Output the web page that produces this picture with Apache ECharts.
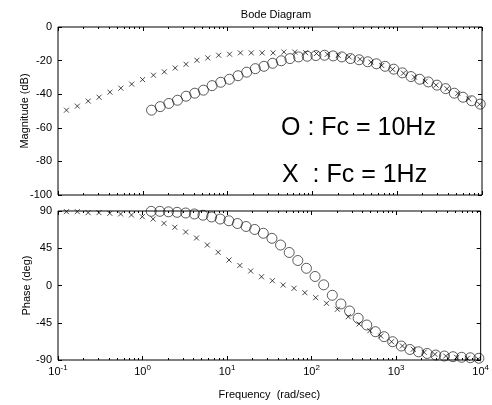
<!DOCTYPE html>
<html>
<head>
<meta charset="utf-8">
<script src="https://cdn.jsdelivr.net/npm/echarts@6/dist/echarts.min.js"></script>
<style>
  html, body { margin: 0; padding: 0; background: #fff; }
  #chart { width: 492px; height: 405px; }
</style>
</head>
<body>
<div id="chart"></div>
<script>
// X : Fc = 1Hz  (frequencies in rad/sec)
const xFreq = [0.1259, 0.1691, 0.2272, 0.3052, 0.4101, 0.5508, 0.7398, 0.994, 1.335, 1.794,
  2.410, 3.237, 4.349, 5.842, 7.849, 10.54, 14.17, 19.03, 25.56, 34.35,
  46.13, 61.98, 83.25, 111.8, 150.2, 201.8, 271.1, 364.2, 489.3, 657.3,
  883.1, 1186, 1594, 2141, 2876, 3864, 5191, 6973, 9368]
const xMag = [-49.5, -47.1, -44.1, -41.8, -38.8, -36.4, -34, -31.3, -28.7, -26.7,
  -24.4, -22.2, -19.8, -18.4, -16.8, -16.2, -15.4, -15.4, -15.4, -15.4,
  -14.9, -14.9, -15.3, -15.8, -16.2, -16.9, -17.8, -19.2, -20.9, -22.9,
  -25.2, -27.5, -29.8, -32.3, -34.6, -36.8, -39.5, -42.8, -46]
const xPhase = [89.2, 89.2, 88, 88, 87.2, 86.4, 85.2, 83.1, 80.3, 75.1,
  70.3, 64.6, 57.4, 48.9, 40.1, 30.8, 24.2, 17.5, 10.6, 5.8,
  0.6, -3.4, -8.7, -14.7, -21.5, -28.7, -37.7, -46.5, -54.6, -61,
  -67.9, -73, -77, -80.7, -83.1, -85.2, -86.7, -87.9, -88.8]

// O : Fc = 10Hz
const oFreq = [1.268, 1.603, 2.028, 2.564, 3.243, 4.102, 5.188, 6.561, 8.299, 10.50,
  13.27, 16.79, 21.23, 26.85, 33.96, 42.95, 54.33, 68.71, 86.90, 109.9,
  139.0, 175.8, 222.3, 281.2, 355.6, 449.8, 568.9, 719.5, 910.0, 1151,
  1455, 1841, 2328, 2944, 3724, 4710, 5957, 7534, 9528]
const oMag = [-49.5, -47.4, -45.5, -43.6, -41.2, -39.4, -37.6, -34.9, -32.9, -31.1,
  -29, -26.9, -24.8, -23.4, -21.6, -20.1, -18.8, -17.8, -17.4, -17,
  -16.8, -17.2, -17.8, -18.8, -19.5, -20.7, -21.9, -23.4, -25.1, -27.3,
  -29.5, -31.1, -32.7, -34.6, -36.7, -39.4, -41.8, -43.9, -45.9]
const oPhase = [89.6, 89.6, 89, 88.4, 87.6, 86.4, 84.9, 82.8, 80.3, 78.2,
  74.9, 71.3, 67.7, 63.1, 57, 48.9, 39.9, 30.2, 20.8, 10.9,
  0.8, -11.8, -22.3, -30.8, -39.6, -47.7, -55.8, -61.8, -67.9, -73.1,
  -77.3, -80.1, -82.1, -84, -85.2, -86, -86.7, -87.3, -87.9]

const font = 'Liberation Sans, Arial, sans-serif'
const chart = echarts.init(document.getElementById('chart'))

function pairs(xs, ys) {
  return xs.map((f, i) => [f, ys[i]])
}

function logAxis(grid, pos, labels) {
  return {
    type: 'log', logBase: 10, gridIndex: grid, position: pos,
    min: 0.1, max: 10000,
    axisLine: { show: false, onZero: false },
    axisTick: { show: true, inside: true, length: 4, lineStyle: { color: '#000' } },
    minorTick: { show: true, splitNumber: 9, length: 2, lineStyle: { color: '#000' } },
    splitLine: { show: false },
    axisLabel: labels ? {
      show: true, margin: 4,
      formatter: v => '{b|10}{s|' + Math.round(Math.log10(v)) + '}',
      rich: {
        b: { fontSize: 11, fontFamily: font, color: '#000' },
        s: { fontSize: 8, fontFamily: font, color: '#000', padding: [0, 0, 8, 0] }
      }
    } : { show: false }
  }
}

function valAxis(grid, pos, min, max, step, labels) {
  return {
    type: 'value', gridIndex: grid, position: pos,
    min: min, max: max, interval: step,
    axisLine: { show: false, onZero: false },
    axisTick: { show: true, inside: true, length: 4, lineStyle: { color: '#000' } },
    splitLine: { show: false },
    axisLabel: labels ? { show: true, fontSize: 11, fontFamily: font, color: '#000', margin: 6 } : { show: false }
  }
}

const xAxes = [logAxis(0, 'bottom', false), logAxis(0, 'top', false),
  logAxis(1, 'bottom', true), logAxis(1, 'top', false)]
xAxes[2].name = 'Frequency  (rad/sec)'
xAxes[2].nameLocation = 'middle'
xAxes[2].nameGap = 29
xAxes[2].nameMoveOverlap = false
xAxes[2].nameTextStyle = { fontSize: 11, fontFamily: font, color: '#000' }

const yAxes = [valAxis(0, 'left', -100, 0, 20, true), valAxis(0, 'right', -100, 0, 20, false),
  valAxis(1, 'left', -90, 90, 45, true), valAxis(1, 'right', -90, 90, 45, false)]
yAxes[0].name = 'Magnitude (dB)'
yAxes[2].name = 'Phase (deg)'
;[0, 2].forEach(i => {
  yAxes[i].nameLocation = 'middle'
  yAxes[i].nameGap = i === 0 ? 28 : 26
  yAxes[i].nameMoveOverlap = false
  yAxes[i].nameTextStyle = { fontSize: 11, fontFamily: font, color: '#000' }
})

const circleStyle = { color: 'rgba(0,0,0,0)', borderColor: '#000', borderWidth: 0.8 }
const crossStyle = { color: 'rgba(0,0,0,0)', borderColor: '#000', borderWidth: 0.9 }
const cross = 'path://M0,0L10,10M10,0L0,10'

chart.setOption({
  animation: false,
  backgroundColor: '#fff',
  title: {
    text: 'Bode Diagram', left: 271, top: 4, textAlign: 'center',
    textStyle: { fontSize: 11, fontWeight: 'normal', fontFamily: font, color: '#000' }
  },
  grid: [
    { left: 58, right: 10, top: 27, bottom: 210, show: true, borderColor: '#000', borderWidth: 1, backgroundColor: '#fff' },
    { left: 58, right: 10, top: 211, bottom: 45, show: true, borderColor: '#000', borderWidth: 1, backgroundColor: '#fff' }
  ],
  xAxis: xAxes,
  yAxis: yAxes,
  graphic: [
    { type: 'text', left: 281, top: 116, style: { text: 'O : Fc = 10Hz', fontSize: 25, fontFamily: font, fill: '#000' } },
    { type: 'text', left: 282, top: 163, style: { text: 'X  : Fc = 1Hz', fontSize: 25, fontFamily: font, fill: '#000' } }
  ],
  series: [
    { type: 'scatter', xAxisIndex: 0, yAxisIndex: 0, data: pairs(xFreq, xMag), symbol: cross, symbolSize: 5, itemStyle: crossStyle },
    { type: 'scatter', xAxisIndex: 0, yAxisIndex: 0, data: pairs(oFreq, oMag), symbol: 'circle', symbolSize: 10, itemStyle: circleStyle },
    { type: 'scatter', xAxisIndex: 2, yAxisIndex: 2, data: pairs(xFreq, xPhase), symbol: cross, symbolSize: 5, itemStyle: crossStyle },
    { type: 'scatter', xAxisIndex: 2, yAxisIndex: 2, data: pairs(oFreq, oPhase), symbol: 'circle', symbolSize: 10, itemStyle: circleStyle }
  ]
})
</script>
</body>
</html>
